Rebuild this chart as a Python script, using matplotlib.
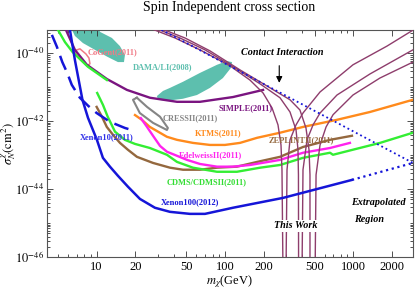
import numpy as np
import matplotlib
matplotlib.use("Agg")
import matplotlib.pyplot as plt
from matplotlib.ticker import FixedLocator, FixedFormatter, NullFormatter

plt.rcParams['font.family'] = ['Liberation Serif', 'DejaVu Serif']
plt.rcParams['mathtext.fontset'] = 'stix'

# ----------------------------
# Datos (masa en GeV, log10 de sigma en cm^2)
# ----------------------------

xenon100_m = [6.08, 6.19, 6.77, 7.75, 8.56, 10.05, 11.19, 12.70, 14.66, 17.54, 21.75,
              28.47, 37.27, 53.36, 69.87, 115.4, 283.2, 977]
xenon100_lg = [-39.17, -39.31, -40.20, -41.37, -41.90, -42.55, -43.08, -43.34, -43.61,
               -43.93, -44.29, -44.55, -44.67, -44.73, -44.73, -44.55, -44.26, -43.73]
xenon100_ext_m = [977, 2918]
xenon100_ext_lg = [-43.73, -43.23]

xenon10_m = [4.48, 4.9, 5.4, 5.9, 6.4, 7.4, 8.6, 10.0, 12.7, 16.6, 19.9]
xenon10_lg = [-39.46, -39.81, -40.26, -40.58, -40.93, -41.31, -41.55, -41.76, -42.02, -42.20, -42.29]

cdms_a_m = [4.95, 4.99, 5.66, 6.48, 8.56, 12.03]
cdms_a_lg = [-39.26, -39.31, -39.67, -39.96, -40.40, -40.79]
cdms_b_m = [10.1, 11.2, 12.2, 13.9, 16.6, 19.9, 26.0, 35.3, 42.3, 56.3, 86.7, 124, 188, 269,
            406, 659, 695, 996, 1616, 2917]
cdms_b_lg = [-41.17, -41.52, -41.87, -42.31, -42.55, -42.67, -42.79, -42.99, -43.20, -43.37,
             -43.49, -43.49, -43.37, -43.29, -43.08, -42.93, -42.99, -42.84, -42.64, -42.34]

zeplin_m = [10.0, 11.0, 12.0, 13.4, 15.2, 17.5, 20.6, 27.5, 37.3, 47.1, 63.8, 86.7, 124, 178,
            269, 406, 659, 977]
zeplin_lg = [-41.58, -41.87, -42.17, -42.40, -42.64, -42.84, -43.05, -43.23, -43.37, -43.43,
             -43.43, -43.37, -43.34, -43.20, -43.05, -42.76, -42.55, -42.43]

edelweiss_m = [22.1, 24.7, 27.5, 31.2, 35.3, 42.3, 50.6, 63.8, 86.7, 115, 157, 269, 406, 659, 942]
edelweiss_lg = [-41.91, -42.17, -42.43, -42.73, -42.90, -43.02, -43.14, -43.26, -43.34, -43.34,
                -43.29, -43.14, -42.93, -42.79, -42.64]

kims_m = [19.9, 22.5, 26.0, 31.1, 35.3, 42.3, 56.3, 76.4, 100, 131, 178, 269, 406, 747, 1349, 2917]
kims_lg = [-41.82, -41.96, -42.17, -42.34, -42.46, -42.55, -42.64, -42.70, -42.70, -42.64,
           -42.49, -42.34, -42.17, -41.96, -41.73, -41.37]

cresst_m = [20.6, 24.7, 31.2, 35.9, 35.3, 27.5, 21.7, 19.2, 20.6]
cresst_lg = [-41.31, -41.58, -41.87, -42.20, -42.26, -42.05, -41.76, -41.37, -41.31]

simple_m = [5.76, 6.77, 8.40, 12.03, 17.23, 26.0, 42.3, 63.9, 115.4, 198.2]
simple_lg = [-39.31, -39.90, -40.34, -40.76, -41.08, -41.31, -41.43, -41.43, -41.29, -41.08]

dama_a_m = [6.2, 10.3, 10.61, 13.16, 15.19, 16.62, 16.33, 14.66, 12.2, 9.70, 7.82, 6.77, 6.42]
dama_a_lg = [-39.2, -39.2, -39.37, -39.55, -39.79, -40.05, -40.26, -40.26, -40.11, -39.90,
             -39.70, -39.49, -39.31]
dama_b_m = [29.5, 32.9, 37.3, 47.1, 63.8, 86.7, 103.7, 113.5, 111.4, 96.4, 76.4, 60.5, 47.1,
            35.3, 30.1]
dama_b_lg = [-41.26, -41.11, -41.02, -40.84, -40.58, -40.34, -40.23, -40.26, -40.43, -40.73,
             -41.02, -41.23, -41.34, -41.40, -41.37]

cogent_m = [6.66, 7.41, 8.25, 8.71, 8.87, 8.40, 7.68, 7.02, 6.66]
cogent_lg = [-39.93, -39.87, -40.02, -40.14, -40.31, -40.37, -40.23, -40.08, -39.93]

contact_m = [32.0, 2918]
contact_lg = [-39.31, -43.23]

work1_m = [26.0, 40.8, 63.9, 109.4, 156.7, 198.2, 232.8, 259.1, 273.4, 278.3, 283.4, 299.1,
           304.6, 321.4, 358.2, 405.8, 551.0, 995, 1831, 2918]
work1_lg = [-39.26, -39.55, -39.90, -40.37, -40.79, -41.17, -41.61, -42.11, -42.70, -43.43,
            -46.5, -46.5, -43.43, -42.55, -42.11, -41.76, -41.14, -40.34, -39.79, -39.32]
work2_m = [28.5, 44.6, 69.9, 119.7, 187.5, 268.5, 321.4, 358.2, 370.9, 374, 375, 398.6, 405.8,
           436.2, 486.0, 551.0, 746.8, 1350, 2918]
work2_lg = [-39.26, -39.55, -39.90, -40.43, -40.90, -41.31, -41.73, -42.26, -42.84, -43.58,
            -46.5, -46.5, -43.43, -42.55, -42.11, -41.76, -41.23, -40.61, -39.90]
work3_m = [31.1, 48.8, 76.4, 130.9, 205.3, 321.4, 384, 428, 452, 460, 460, 504, 513, 551, 614,
           696, 995, 1614, 2918]
work3_lg = [-39.26, -39.55, -39.93, -40.49, -40.93, -41.37, -41.67, -42.20, -42.84, -43.58,
            -46.5, -46.5, -43.58, -42.70, -42.17, -41.81, -41.23, -40.73, -40.26]

x_ticks = [10, 20, 50, 100, 200, 500, 1000, 2000]
x_ticklabels = ["10", "20", "50", "100", "200", "500", "1000", "2000"]
y_ticks = [1e-46, 1e-44, 1e-42, 1e-40]
y_ticklabels = [r"$10^{-46}$", r"$10^{-44}$", r"$10^{-42}$", r"$10^{-40}$"]


def p(v):
    return 10.0 ** np.asarray(v)


# ----------------------------
# Figura
# ----------------------------

fig = plt.figure(figsize=(4.15, 2.9), dpi=100)
ax = fig.add_axes([0.1125, 0.1138, 0.8825, 0.7828])
ax.set_xscale("log")
ax.set_yscale("log")
ax.set_xlim(4.08, 2918)
ax.set_ylim(1e-46, 10 ** -39.315)

teal = "#5dbfae"
blue = "#1515d8"
maroon = "#8e3d6c"

ax.fill(dama_a_m, p(dama_a_lg), color=teal, lw=0, zorder=1)
ax.fill(dama_b_m, p(dama_b_lg), color=teal, lw=0, zorder=1)
ax.plot(cogent_m, p(cogent_lg), color="#f07a86", lw=1.1, zorder=2)

ax.plot(simple_m, p(simple_lg), color="#7a1480", lw=1.7, zorder=3)
ax.plot(cresst_m, p(cresst_lg), color="#858585", lw=1.5, zorder=3)
ax.plot(kims_m, p(kims_lg), color="#ff8a1c", lw=1.7, zorder=3)
ax.plot(zeplin_m, p(zeplin_lg), color="#94683e", lw=1.7, zorder=3)
ax.plot(edelweiss_m, p(edelweiss_lg), color="#ff22ee", lw=1.7, zorder=3)
ax.plot(cdms_a_m, p(cdms_a_lg), color="#33ee33", lw=1.7, zorder=3)
ax.plot(cdms_b_m, p(cdms_b_lg), color="#33ee33", lw=1.7, zorder=3)

for wm, wl in [(work1_m, work1_lg), (work2_m, work2_lg), (work3_m, work3_lg)]:
    ax.plot(wm, p(wl), color=maroon, lw=1.0, zorder=4)

ax.plot(xenon10_m, p(xenon10_lg), color=blue, lw=1.8, dashes=(6, 3), zorder=5)
ax.plot(xenon100_m, p(xenon100_lg), color=blue, lw=1.8, zorder=5)
ax.plot(xenon100_ext_m, p(xenon100_ext_lg), color=blue, lw=1.6, ls=":", zorder=5)
ax.plot(contact_m, p(contact_lg), color=blue, lw=1.3, ls=":", zorder=5)

# ejes
ax.xaxis.set_major_locator(FixedLocator(x_ticks))
ax.xaxis.set_major_formatter(FixedFormatter(x_ticklabels))
minor_x = [k * 10 ** e for e in range(0, 4) for k in range(2, 10)]
minor_x = [v for v in minor_x if v not in x_ticks]
ax.xaxis.set_minor_locator(FixedLocator(minor_x))
ax.xaxis.set_minor_formatter(NullFormatter())
ax.yaxis.set_major_locator(FixedLocator(y_ticks))
ax.yaxis.set_major_formatter(FixedFormatter(y_ticklabels))
minor_y = [k * 10.0 ** e for e in range(-47, -38) for k in range(1, 10)]
minor_y = [v for v in minor_y if min(abs(np.log10(v) - np.log10(t)) for t in y_ticks) > 1e-6]
ax.yaxis.set_minor_locator(FixedLocator(minor_y))
ax.yaxis.set_minor_formatter(NullFormatter())

ax.tick_params(which="both", direction="in", top=True, right=True, colors="#333333",
               labelcolor="black", labelsize=9, width=0.6)
ax.tick_params(which="major", length=4, pad=3)
ax.tick_params(axis="y", which="major", pad=2)
ax.tick_params(which="minor", length=2)
for s in ax.spines.values():
    s.set_color("#555555")
    s.set_linewidth(0.8)

fig.text(0.553, 0.975, "Spin Independent cross section", ha="center", va="center", fontsize=10)
ax.text(-0.103, 0.5, r"$\sigma^{\chi}_{N}(\mathrm{cm}^{2})$", transform=ax.transAxes,
        rotation=90, ha="center", va="center", fontsize=9)
ax.text(0.5, -0.11, r"$m_{\chi}$(GeV)", transform=ax.transAxes, ha="center", va="center",
        fontsize=9)

lab = dict(transform=ax.transAxes, ha="center", va="center", fontsize=6, fontweight="bold",
           zorder=6)
ax.text(0.181, 0.903, "CoGent(2011)", color="#f07a86", **lab)
ax.text(0.3175, 0.837, "DAMA/LI(2008)", color=teal, **lab)
ax.text(0.544, 0.656, "SIMPLE(2011)", color="#7a1480", **lab)
ax.text(0.391, 0.612, "CRESSII(2011)", color="#858585", **lab)
ax.text(0.468, 0.546, "KTMS(2011)", color="#ff8a1c", **lab)
ax.text(0.694, 0.515, "ZEPLINTII(2011)", color="#94683e", **lab)
ax.text(0.446, 0.449, "EdelweissII(2011)", color="#ff22ee", **lab)
ax.text(0.438, 0.330, "CDMS/CDMSII(2011)", color="#33dd33", **lab)
ax.text(0.165, 0.529, "Xenon10(2011)", color="#3030e8", **lab)
ax.text(0.391, 0.242, "Xenon100(2012)", color=blue, **lab)

bi = dict(transform=ax.transAxes, ha="center", va="center", fontsize=7.3, fontweight="bold",
          fontstyle="italic", color="black", zorder=6)
ax.text(0.642, 0.899, "Contact Interaction", **bi)
ax.text(0.905, 0.238, "Extrapolated", **bi)
ax.text(0.879, 0.167, "Region", **bi)
ax.text(0.680, 0.137, "This Work", bbox=dict(facecolor="white", edgecolor="none", pad=1.0), **bi)
ax.annotate("", xy=(0.635, 0.755), xytext=(0.635, 0.855), xycoords="axes fraction",
            arrowprops=dict(arrowstyle="-|>", color="black", lw=0.8, mutation_scale=9))

fig.savefig("out.png", dpi=100)
